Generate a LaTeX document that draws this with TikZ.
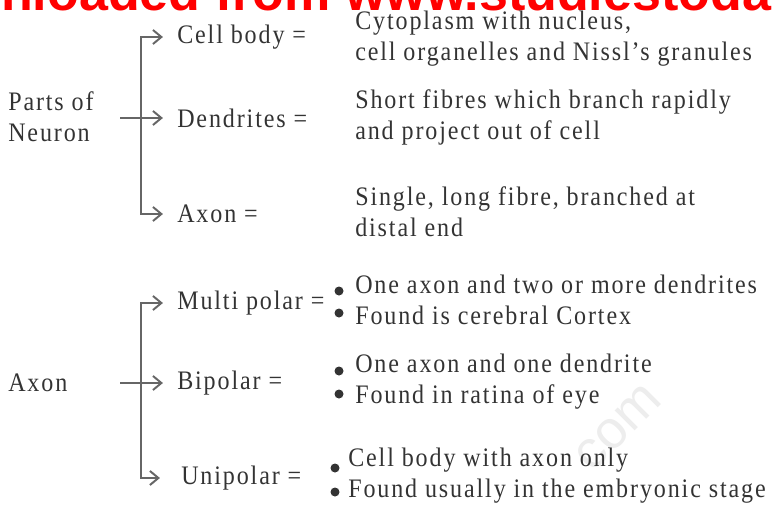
\documentclass[tikz,border=0pt]{standalone}
\usepackage{fontspec}
\setmainfont{Liberation Serif}[FakeStretch=0.9, LetterSpace=7]
\newfontfamily\wmfont{Liberation Sans}
\usetikzlibrary{arrows.meta}
\definecolor{inkgray}{HTML}{333333}
\definecolor{linegray}{HTML}{666666}
\tikzset{
  lbl/.style={anchor=west, inner sep=0pt, text=inkgray, font=\fontsize{19}{22}\selectfont},
  desc/.style={lbl, align=left},
  brace/.style={draw=linegray, line width=1.7pt, shorten >=10pt,
    -{Straight Barb[length=6pt,width=10pt,line width=1.4pt]}},
  dot/.style={fill=inkgray},
}

\begin{document}
\begin{tikzpicture}[x=0.025cm, y=-0.025cm]
    \useasboundingbox (0,0) rectangle (772,507);
    \clip (0,0) rectangle (772,507);

    % watermarks
    \node[anchor=base west, inner sep=0pt, text=red, font=\wmfont\bfseries\fontsize{37}{37}\selectfont] (wm) at (-109,10) {Downloaded from www.studiestoday.com};
    \node[rotate=45, text=black!7, font=\wmfont\fontsize{38}{38}\selectfont] (wmcom) at (618,428) {com};

    % parts of neuron
    \node[desc] (pn) at (8,117) {Parts of\\Neuron};
    \node[lbl] (cb) at (177,37) {Cell body =};
    \node[desc] (cbtext) at (355,39) {Cytoplasm with nucleus,\\cell organelles and Nissl's granules};
    \node[lbl] (dn) at (177,118) {Dendrites =};
    \node[desc] (dntext) at (355,117) {Short fibres which branch rapidly\\and project out of cell};
    \node[lbl] (ax) at (177,214) {Axon =};
    \node[desc] (axtext) at (355,212) {Single, long fibre, branched at\\distal end};

    \coordinate (pnstart) at (120,118);
    \coordinate (pnbar) at (141,118);
    \draw[brace] (pnbar) |- (cb.west);
    \draw[brace] (pnstart) -- (dn.west);
    \draw[brace] (pnbar) |- (ax.west);

    % types of neuron
    \node[lbl] (ax2) at (8,383) {Axon};
    \node[lbl] (mp) at (177,303) {Multi polar =};
    \node[desc] (mptext) at (355,300) {One axon and two or more dendrites\\Found is cerebral Cortex};
    \node[lbl] (bp) at (177,383) {Bipolar =};
    \node[desc] (bptext) at (355,382) {One axon and one dendrite\\Found in ratina of eye};
    \node[lbl] (up) at (181,478) {Unipolar =};
    \node[desc] (uptext) at (348,476) {Cell body with axon only\\Found usually in the embryonic stage};

    \coordinate (axstart) at (120,383);
    \coordinate (axbar) at (141,383);
    \draw[brace] (axbar) |- (mp.west);
    \draw[brace] (axstart) -- (bp.west);
    \draw[brace, shorten >=15pt] (axbar) |- (up.west);

    % bullets
    \fill[dot] (339,291) circle[radius=3.2pt];
    \fill[dot] (339,313) circle[radius=3.2pt];
    \fill[dot] (339,371) circle[radius=3.2pt];
    \fill[dot] (339,394) circle[radius=3.2pt];
    \fill[dot] (335,468) circle[radius=3.2pt];
    \fill[dot] (335,492) circle[radius=3.2pt];
\end{tikzpicture}
\end{document}
